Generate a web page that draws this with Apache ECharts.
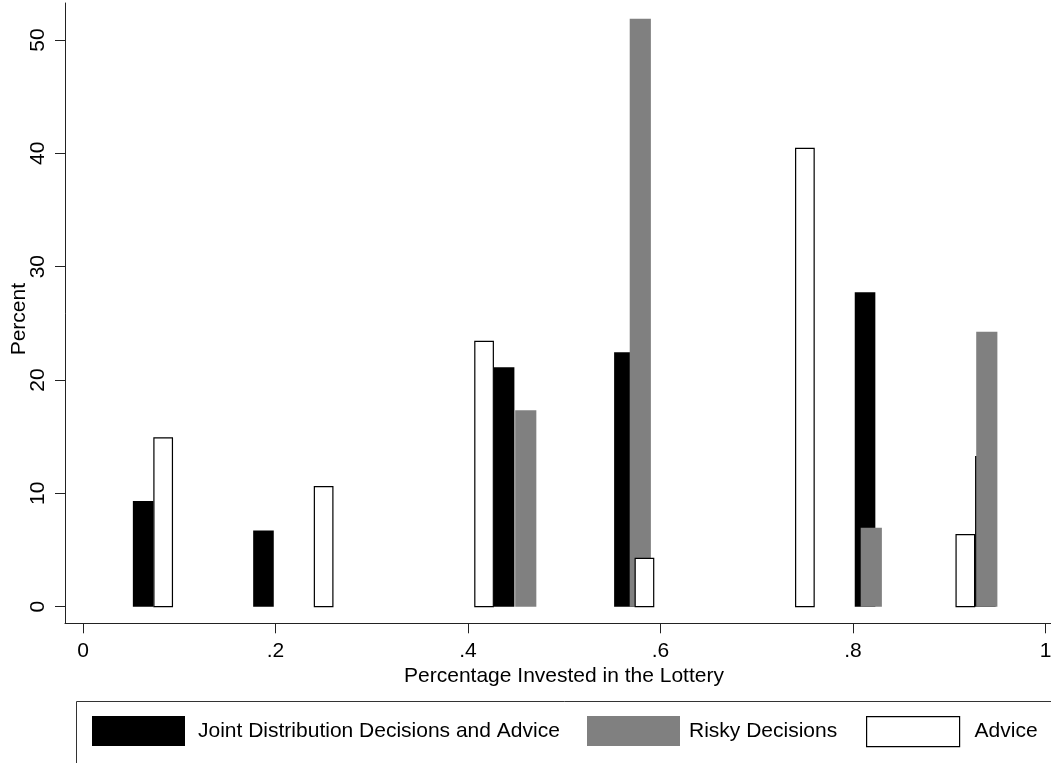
<!DOCTYPE html>
<html>
<head>
<meta charset="utf-8">
<script src="https://cdn.jsdelivr.net/npm/echarts@6/dist/echarts.min.js"></script>
<style>
html,body{margin:0;padding:0;background:#fff;}
#chart{width:1051px;height:763px;}
</style>
</head>
<body>
<div id="chart"></div>
<script>
// ---- data ----
const seriesNames = ['Joint Distribution Decisions and Advice', 'Risky Decisions', 'Advice'];
const jointX = [0.0625, 0.1875, 0.4375, 0.5625, 0.8125, 0.9375];
const jointY = [9.33, 6.71, 21.12, 22.45, 27.74, 13.3];
const riskyX = [0.46, 0.579, 0.819, 0.939];
const riskyY = [17.33, 51.88, 6.97, 24.26];
const adviceX = [0.0833, 0.25, 0.4167, 0.5833, 0.75, 0.9167];
const adviceY = [14.95, 10.65, 23.47, 4.32, 40.5, 6.41];
const xTicks = [0, 0.2, 0.4, 0.6, 0.8, 1];
const yTicks = [0, 10, 20, 30, 40, 50];

function pairs(xs, ys) { return xs.map((x, i) => [x, ys[i]]); }

function barRenderer(barW, inset) {
  return function (params, api) {
    const x = api.value(0), y = api.value(1);
    const p0 = api.coord([x - barW / 2, y]);
    const p1 = api.coord([x + barW / 2, 0]);
    return {
      type: 'rect',
      shape: { x: p0[0] + inset, y: p0[1] + inset, width: p1[0] - p0[0] - 2 * inset, height: p1[1] - p0[1] - inset },
      style: api.style()
    };
  };
}

const FONT = '"Liberation Sans", Arial, Helvetica, sans-serif';
const FS = 21;
const AX = '#222';

const chart = echarts.init(document.getElementById('chart'));
const option = {
  backgroundColor: '#fff',
  animation: false,
  textStyle: { fontFamily: FONT },
  grid: { left: 65, top: 3, right: 0, bottom: 139.7, containLabel: false, outerBoundsMode: 'none' },
  xAxis: {
    type: 'value', min: -0.0187, max: 1.0057,
    splitLine: { show: false },
    axisLine: { show: true, onZero: false, lineStyle: { color: AX, width: 1 } },
    axisTick: { show: true, length: 10, lineStyle: { color: AX }, customValues: xTicks },
    axisLabel: {
      customValues: xTicks, margin: 17, color: '#000', fontSize: FS, fontFamily: FONT,
      formatter: v => (v === 0 ? '0' : v === 1 ? '1' : String(v).replace(/^0\./, '.'))
    },
    name: 'Percentage Invested in the Lottery', nameLocation: 'middle', nameGap: 38,
    nameTextStyle: { color: '#000', fontSize: FS, fontFamily: FONT, padding: [0, 0, 0, 12] }
  },
  yAxis: {
    type: 'value', min: -1.47, max: 53.27,
    splitLine: { show: false },
    axisLine: { show: true, onZero: false, lineStyle: { color: AX, width: 1 } },
    axisTick: { show: true, length: 10, lineStyle: { color: AX }, customValues: yTicks },
    axisLabel: { customValues: yTicks, rotate: 90, margin: 16, color: '#000', fontSize: FS, fontFamily: FONT },
    name: 'Percent', nameLocation: 'middle', nameGap: 35, nameRotate: 90, nameMoveOverlap: false,
    nameTextStyle: { color: '#000', fontSize: FS, fontFamily: FONT, padding: [0, 12, 0, 0] }
  },
  legend: [
    { left: 92, top: 716, padding: 0, itemWidth: 93, itemHeight: 30, icon: 'rect',
      textStyle: { fontSize: FS, color: '#000', fontFamily: FONT, padding: [0, 0, 0, 8] },
      data: [{ name: seriesNames[0], itemStyle: { color: '#000' } }] },
    { left: 587, top: 716, padding: 0, itemWidth: 93, itemHeight: 30, icon: 'rect',
      textStyle: { fontSize: FS, color: '#000', fontFamily: FONT, padding: [0, 0, 0, 4] },
      data: [{ name: seriesNames[1], itemStyle: { color: '#808080' } }] },
    { left: 866, top: 716, padding: 0, itemWidth: 93, itemHeight: 30, icon: 'rect',
      textStyle: { fontSize: FS, color: '#000', fontFamily: FONT, padding: [0, 0, 0, 10] },
      data: [{ name: seriesNames[2], itemStyle: { color: '#fff', borderColor: '#000', borderWidth: 1.2 } }] }
  ],
  graphic: [
    { type: 'rect', left: 74, top: 699, silent: true,
      shape: { x: 0, y: 0, width: 1000, height: 62.5 },
      style: { fill: 'none', stroke: '#333', lineWidth: 1 } }
  ],
  series: [
    { name: seriesNames[0], type: 'custom', renderItem: barRenderer(0.0214, 0),
      itemStyle: { color: '#000' }, data: pairs(jointX, jointY), z: 2 },
    { name: seriesNames[1], type: 'custom', renderItem: barRenderer(0.022, 0),
      itemStyle: { color: '#808080' }, data: pairs(riskyX, riskyY), z: 3 },
    { name: seriesNames[2], type: 'custom', renderItem: barRenderer(0.0205, 0.6),
      itemStyle: { color: '#fff', borderColor: '#000', borderWidth: 1.2 }, data: pairs(adviceX, adviceY), z: 4 }
  ]
};
chart.setOption(option);
</script>
</body>
</html>
